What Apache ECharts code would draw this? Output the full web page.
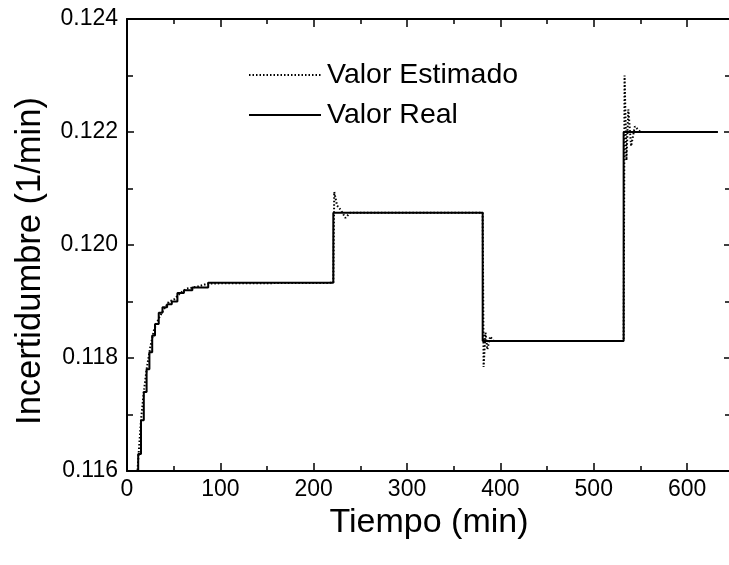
<!DOCTYPE html>
<html><head><meta charset="utf-8">
<script src="https://cdn.jsdelivr.net/npm/echarts@6/dist/echarts.min.js"></script>
<style>html,body{margin:0;padding:0;background:#fff}#c{width:729px;height:565px}</style>
</head><body><div id="c"></div>
<script>
// ---- data ----
const seriesNames = ['Valor Estimado', 'Valor Real'];
const xAxisTitle = 'Tiempo (min)';
const yAxisTitle = 'Incertidumbre (1/min)';
const xRange = [0, 647];
const yRange = [0.116, 0.124];

// Valor Real: piecewise-constant (value holds from t until next t)
const realTime  = [9, 12, 15, 18, 21, 24, 27, 30, 34, 38, 43, 48, 54, 61, 70, 87, 221, 381, 532, 633];
const realValue = [0.1155, 0.1163, 0.1169, 0.1174, 0.1178, 0.1181, 0.1184, 0.1186, 0.1188, 0.1189, 0.11895, 0.1190, 0.11915, 0.1192, 0.11925, 0.11933, 0.12057, 0.11830, 0.12200, 0.12200];

// Valor Estimado
const estTime  = [9, 12, 15, 18, 21, 25, 29, 34, 39, 45, 50, 57, 64, 75, 87, 221, 222, 225, 229, 234, 239, 381, 382, 384, 386, 389, 393, 532, 533, 535, 537, 540, 544, 550, 633];
const estValue = [0.1154, 0.1162, 0.1169, 0.1174, 0.1178, 0.1182, 0.1185, 0.1187, 0.11885, 0.1190, 0.11903, 0.11915, 0.11923, 0.11926, 0.11932, 0.11933, 0.12094, 0.12070, 0.12062, 0.12048, 0.12057, 0.12057, 0.11784, 0.11845, 0.11815, 0.11838, 0.11830, 0.11830, 0.12300, 0.12150, 0.12240, 0.12175, 0.12210, 0.12200, 0.12200];

const realData = realTime.map((t, i) => [t, realValue[i]]);
const estData = estTime.map((t, i) => [t, estValue[i]]);

const FONT = "'Liberation Sans', Arial, sans-serif";
const chart = echarts.init(document.getElementById('c'), null, {renderer: 'canvas'});

function xAx(pos, labels) {
  return {
    type: 'value', position: pos, min: xRange[0], max: xRange[1], interval: 100,
    axisLine: {show: true, onZero: false, lineStyle: {color: '#000', width: 2}},
    axisTick: {show: true, inside: true, length: 8, lineStyle: {color: '#000', width: 1.5}},
    minorTick: {show: true, splitNumber: 2, length: 5, lineStyle: {color: '#000', width: 1.5}},
    splitLine: {show: false},
    axisLabel: {show: labels, margin: 7, color: '#000', fontSize: 23, fontFamily: FONT,
      showMaxLabel: false, hideOverlap: false},
    name: labels ? xAxisTitle : '', nameLocation: 'middle', nameGap: 33,
    nameTextStyle: {color: '#000', fontSize: 34, fontFamily: FONT}
  };
}
function yAx(pos, labels) {
  return {
    type: 'value', position: pos, min: yRange[0], max: yRange[1], interval: 0.002,
    axisLine: {show: true, onZero: false, lineStyle: {color: '#000', width: 2}},
    axisTick: {show: true, inside: true, length: 7, lineStyle: {color: '#000', width: 1.5}},
    minorTick: {show: true, splitNumber: 2, length: 6, lineStyle: {color: '#000', width: 1.5}},
    splitLine: {show: false},
    axisLabel: {show: labels, margin: 9, color: '#000', fontSize: 23, fontFamily: FONT,
      formatter: v => v.toFixed(3)}
  };
}

chart.setOption({
  animation: false,
  backgroundColor: '#fff',
  color: ['#000', '#000'],
  grid: {left: 127, right: -2, top: 19, bottom: 94, containLabel: false, outerBoundsMode: 'none'},
  xAxis: [xAx('bottom', true), xAx('top', false)],
  yAxis: [yAx('left', true), yAx('right', false)],
  legend: {
    data: seriesNames, orient: 'vertical', left: 243, top: 55,
    itemWidth: 72, itemHeight: 14, itemGap: 10,
    itemStyle: {opacity: 0},
    textStyle: {color: '#000', fontSize: 28.5, fontFamily: FONT, lineHeight: 30, padding: [0, 0, 0, 1]}
  },
  graphic: [{
    type: 'text', x: 30, y: 261, rotation: Math.PI / 2,
    style: {text: yAxisTitle, fill: '#000', fontSize: 34.5, fontFamily: FONT, align: 'center', verticalAlign: 'middle'}
  }],
  series: [
    {
      name: seriesNames[1], type: 'line', data: realData, step: 'end',
      symbol: 'none', itemStyle: {color: '#000'}, lineStyle: {color: '#000', width: 2}, z: 2
    },
    {
      name: seriesNames[0], type: 'line', data: estData,
      symbol: 'none', itemStyle: {color: '#000'}, lineStyle: {color: '#000', width: 2, type: [1.5, 2]}, z: 3
    }
  ]
});
</script></body></html>
